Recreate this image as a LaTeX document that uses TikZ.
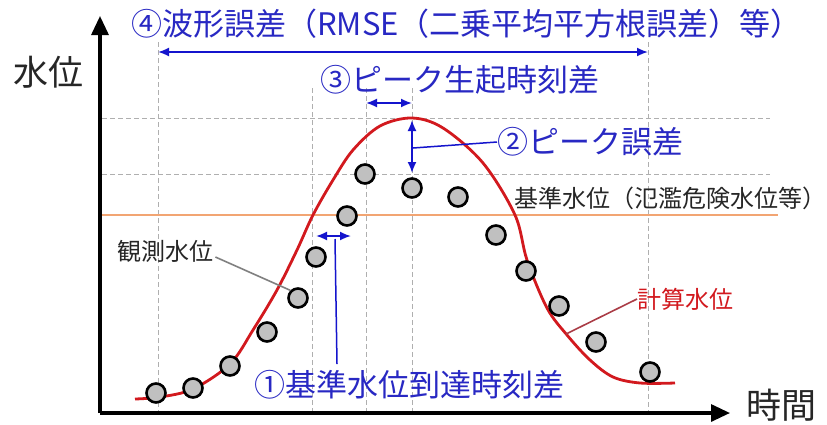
\documentclass[tikz,border=0pt]{standalone}
\usepackage{fontspec}
\setmainfont{Noto Sans CJK JP}
\usetikzlibrary{arrows.meta}
\definecolor{bluetxt}{RGB}{40,40,195}
\definecolor{arrblue}{RGB}{20,20,205}
\definecolor{curvered}{RGB}{210,25,30}
\definecolor{orangeln}{RGB}{242,165,115}
\definecolor{gridgray}{RGB}{175,175,175}
\definecolor{dotgray}{RGB}{192,192,192}
\definecolor{leadred}{RGB}{170,60,70}
\tikzset{
  axis/.style={line width=3.2pt,-{Triangle[length=19pt,width=17pt]}},
  gridln/.style={gridgray,line width=0.9pt,dash pattern=on 5pt off 3pt},
  dblarrow/.style={arrblue,line width=1.8pt,{Latex[length=11pt,width=9pt]}-{Latex[length=11pt,width=9pt]}},
  obs/.style={circle,draw=black,line width=2.6pt,fill=dotgray,minimum size=19pt,inner sep=0pt},
  bluelabel/.style={text=bluetxt,font=\fontsize{31}{31}\selectfont,inner sep=0pt},
  blacklabel/.style={text=black!85,font=\fontsize{24}{24}\selectfont,inner sep=0pt},
  axislabel/.style={text=black!85,font=\fontsize{35}{35}\selectfont,inner sep=0pt},
}
\begin{document}
\begin{tikzpicture}[x=1pt,y=-1pt]
\useasboundingbox[fill=white] (0,0) rectangle (827,424);
% grid lines
\draw[gridln] (158,42) -- (158,411);
\draw[gridln] (312,88) -- (312,411);
\draw[gridln] (366,88) -- (366,411);
\draw[gridln] (412,88) -- (412,411);
\draw[gridln] (648,42) -- (648,411);
\draw[gridln] (102,118) -- (770,118);
\draw[gridln] (102,174) -- (770,174);
% reference level
\draw[orangeln,line width=2.8pt] (102,215) -- (778,215);
% axes
\coordinate (origin) at (100,413);
\coordinate (ytop) at (100,16);
\coordinate (xend) at (730,413);
\draw[axis] (origin) -- (ytop);
\draw[axis] (origin) -- (xend);
\node[axislabel] (ylab) at (48,72) {水位};
\node[axislabel] (xlab) at (781,405) {時間};
% computed curve
\draw[curvered,line width=2.8pt] plot[smooth,tension=0.55] coordinates {
 (135,399) (160,397) (193,389) (230,364) (253,330) (277,290) (297,250)
 (313,215) (333,180) (353,150) (380,126) (412,118) (443,128) (483,163)
 (515,215) (527,260) (547,308) (567,335) (590,360) (613,377) (640,383) (675,383)};
% observed points
\foreach \n/\px/\py in {o1/156/393,o2/193/388,o3/230/366,o4/267/332,o5/298/298,
 o6/316/257,o7/347/216,o8/365/174,o9/412/188,o10/458/197,o11/496/235,
 o12/526/271,o13/559/306,o14/596/342,o15/650/372}
  \node[obs] (\n) at (\px,\py) {};
% labels for series
\node[blacklabel,anchor=west] (obslab) at (117,251) {観測水位};
\draw[gray,line width=1.6pt] (obslab.east) ++(2,6) -- (o5.north west);
\node[blacklabel,anchor=west,text=curvered] (calclab) at (637,299) {計算水位};
\coordinate (calcpt) at (566,334);
\draw[leadred,line width=1.6pt] (calcpt) -- (calclab.west);
\node[blacklabel,anchor=west] (reflab) at (514,198) {基準水位（氾濫危険水位等）};
% (4) waveform error
\node[bluelabel,anchor=west] (t4) at (131,24) {④波形誤差（RMSE（二乗平均平方根誤差）等）};
\coordinate (a4l) at (158,52);
\coordinate (a4r) at (648,52);
\draw[dblarrow] (a4l) -- (a4r);
% (3) peak time difference
\node[bluelabel,anchor=west] (t3) at (320,80) {③ピーク生起時刻差};
\coordinate (a3l) at (366,103);
\coordinate (a3r) at (412,103);
\draw[dblarrow] (a3l) -- (a3r);
% (2) peak error
\node[bluelabel,anchor=west] (t2) at (497,142) {②ピーク誤差};
\coordinate (a2t) at (412,120);
\coordinate (a2b) at (412,173);
\draw[dblarrow] (a2t) -- (a2b);
\coordinate (a2m) at (413,148);
\draw[arrblue,line width=1.5pt] (a2m) -- (t2.west);
% (1) arrival time difference
\node[bluelabel,anchor=west] (t1) at (254,385) {①基準水位到達時刻差};
\coordinate (a1l) at (316,236);
\coordinate (a1r) at (351,236);
\draw[dblarrow] (a1l) -- (a1r);
\coordinate (a1top) at (335,239);
\coordinate (a1bot) at (337,364);
\draw[arrblue,line width=1.5pt] (a1top) -- (a1bot);
\end{tikzpicture}
\end{document}
